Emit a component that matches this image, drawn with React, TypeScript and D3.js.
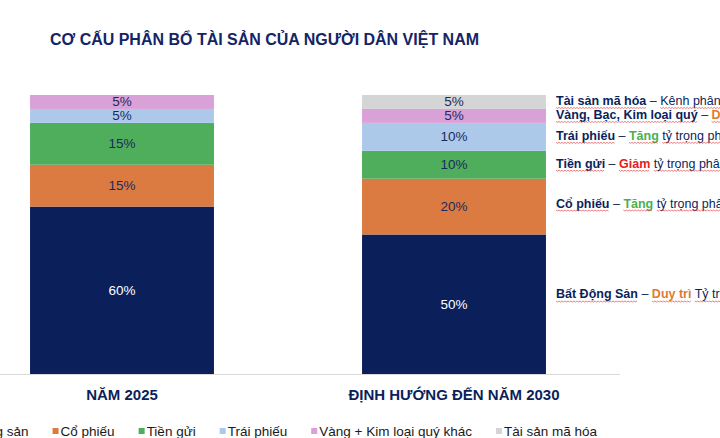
import React, { useEffect, useRef } from "react";
import * as d3 from "d3";

// data
const title = "CƠ CẤU PHÂN BỔ TÀI SẢN CỦA NGƯỜI DÂN VIỆT NAM";
const categories = ["NĂM 2025", "ĐỊNH HƯỚNG ĐẾN NĂM 2030"];
const seriesNames = [
  "Bất động sản",
  "Cổ phiếu",
  "Tiền gửi",
  "Trái phiếu",
  "Vàng + Kim loại quý khác",
  "Tài sản mã hóa",
];
const values2025 = [60, 15, 15, 5, 5, 0];
const values2030 = [50, 20, 10, 10, 5, 5];
const colors = ["#0b1f5b", "#db7a41", "#4fae5b", "#adc9ea", "#d9a1d8", "#d5d5d5"];

// notes next to the 2030 bar (series index, name, highlight word, rest)
const noteSeries = [5, 4, 3, 2, 1, 0];
const noteNames = ["Tài sản mã hóa", "Vàng, Bạc, Kim loại quý", "Trái phiếu", "Tiền gửi", "Cổ phiếu", "Bất Động Sản"];
const noteWords = ["", "Duy trì", "Tăng", "Giảm", "Tăng", "Duy trì"];
const noteRest = [
  "Kênh phân bổ mới",
  " tỷ trọng phân bổ",
  " tỷ trọng phân bổ",
  " tỷ trọng phân bổ",
  " tỷ trọng phân bổ",
  " Tỷ trọng phân bổ",
];
const wordColors: Record<string, string> = { "Tăng": "#4caf50", "Giảm": "#e3201b", "Duy trì": "#e07b2e" };

const W = 720;
const H = 438;
const navy = "#0b1f5b";
const font = "'Liberation Sans', Arial, sans-serif";

const App = () => {
  const svgRef = useRef<SVGSVGElement>(null);

  useEffect(() => {
    const svg = d3.select(svgRef.current);
    svg.selectAll("*").remove();

    const rows = categories.map((c, i) => {
      const vals = i === 0 ? values2025 : values2030;
      const r: any = { cat: c };
      seriesNames.forEach((s, j) => (r[s] = vals[j]));
      return r;
    });
    const stacked = d3.stack().keys(seriesNames)(rows);

    const x = d3.scaleBand().domain(categories).range([-44, 620]).paddingInner(0.446).paddingOuter(0.223);
    const y = d3.scaleLinear().domain([0, 100]).range([374, 95]);

    // title
    svg
      .append("text")
      .attr("x", 50)
      .attr("y", 45)
      .attr("textLength", 429)
      .attr("lengthAdjust", "spacingAndGlyphs")
      .style("font", `bold 16px ${font}`)
      .attr("fill", "#132566")
      .text(title);

    // bars
    const layers = svg
      .selectAll(".layer")
      .data(stacked)
      .join("g")
      .attr("class", "layer")
      .attr("fill", (d, i) => colors[i]);

    layers
      .selectAll("rect")
      .data((d) => d)
      .join("rect")
      .attr("x", (d: any) => x(d.data.cat)!)
      .attr("width", x.bandwidth())
      .attr("y", (d) => y(d[1]))
      .attr("height", (d) => y(d[0]) - y(d[1]));

    layers.each(function (layer, i) {
      d3.select(this)
        .selectAll("text")
        .data(layer.filter((d) => d[1] - d[0] > 0))
        .join("text")
        .attr("x", (d: any) => x(d.data.cat)! + x.bandwidth() / 2)
        .attr("y", (d) => (y(d[0]) + y(d[1])) / 2 + 4.5)
        .attr("text-anchor", "middle")
        .style("font", `13.5px ${font}`)
        .attr("fill", i === 0 ? "#ffffff" : "#1b2a5e")
        .text((d) => `${d[1] - d[0]}%`);
    });

    // axis line and category labels
    svg
      .append("line")
      .attr("x1", 0)
      .attr("x2", 620)
      .attr("y1", y(0) + 0.5)
      .attr("y2", y(0) + 0.5)
      .attr("stroke", "#d9d9d9");

    svg
      .selectAll(".cat")
      .data(categories)
      .join("text")
      .attr("class", "cat")
      .attr("x", (d) => x(d)! + x.bandwidth() / 2)
      .attr("y", 400)
      .attr("text-anchor", "middle")
      .style("font", `bold 15px ${font}`)
      .attr("fill", navy)
      .text((d) => d);

    // notes
    const last = stacked.map((s) => s[1]);
    const notes = svg
      .selectAll(".note")
      .data(noteNames)
      .join("text")
      .attr("class", "note")
      .attr("x", 556)
      .attr("y", (d, i) => {
        const seg = last[noteSeries[i]];
        // the tall segments have their note a little above centre
        const mid = (y(seg[0]) + y(seg[1])) / 2;
        const h = y(seg[0]) - y(seg[1]);
        return mid - Math.max(0, h - 30) * 0.08 + 3;
      })
      .style("font", `12.5px ${font}`)
      .attr("fill", navy);
    notes.append("tspan").attr("class", "sq").attr("font-weight", "bold").text((d) => d);
    notes.append("tspan").text(" – ");
    notes
      .append("tspan")
      .attr("class", "sq")
      .attr("font-weight", "bold")
      .attr("fill", (d, i) => wordColors[noteWords[i]] || navy)
      .text((d, i) => noteWords[i]);
    notes.append("tspan").attr("class", "sq").text((d, i) => noteRest[i]);

    // red spell-check squiggles under the note words
    const squig = svg.append("g").attr("fill", "none").attr("stroke", "#e04848").attr("stroke-width", 0.7);
    notes.each(function () {
      const textEl = this as SVGTextElement;
      const baseY = +textEl.getAttribute("y")! + 2.5;
      d3.select(textEl)
        .selectAll<SVGTSpanElement, unknown>("tspan.sq")
        .each(function () {
          const ts = this as SVGTSpanElement;
          const n = ts.getNumberOfChars();
          if (!n) return;
          const s = (ts.textContent || "").search(/\S/);
          const x0 = ts.getStartPositionOfChar(Math.max(0, s)).x;
          const x1 = ts.getEndPositionOfChar(n - 1).x;
          const pts: [number, number][] = [];
          for (let px = x0, k = 0; px <= x1; px += 1.5, k++) pts.push([px, baseY + (k % 2 ? 1 : 0)]);
          squig.append("path").attr("d", d3.line()(pts));
        });
    });

    // legend
    const legend = svg.append("g").attr("transform", "translate(0,431)");
    let lx = -59;
    seriesNames.forEach((s, i) => {
      const g = legend.append("g").attr("transform", `translate(${lx},0)`);
      g.append("rect").attr("x", 0).attr("y", -3).attr("width", 6).attr("height", 6).attr("fill", colors[i]);
      const t = g
        .append("text")
        .attr("x", 8)
        .attr("y", 4.5)
        .style("font", `13.5px ${font}`)
        .attr("fill", "#1a1a1a")
        .text(s);
      const w = (t.node() as SVGTextElement).getComputedTextLength();
      lx += 8 + w + 24;
    });
  }, []);

  return (
    <svg
      ref={svgRef}
      width={W}
      height={H}
      style={{ position: "absolute", left: 0, top: 0, background: "#ffffff", overflow: "hidden" }}
    />
  );
};

export default App;
